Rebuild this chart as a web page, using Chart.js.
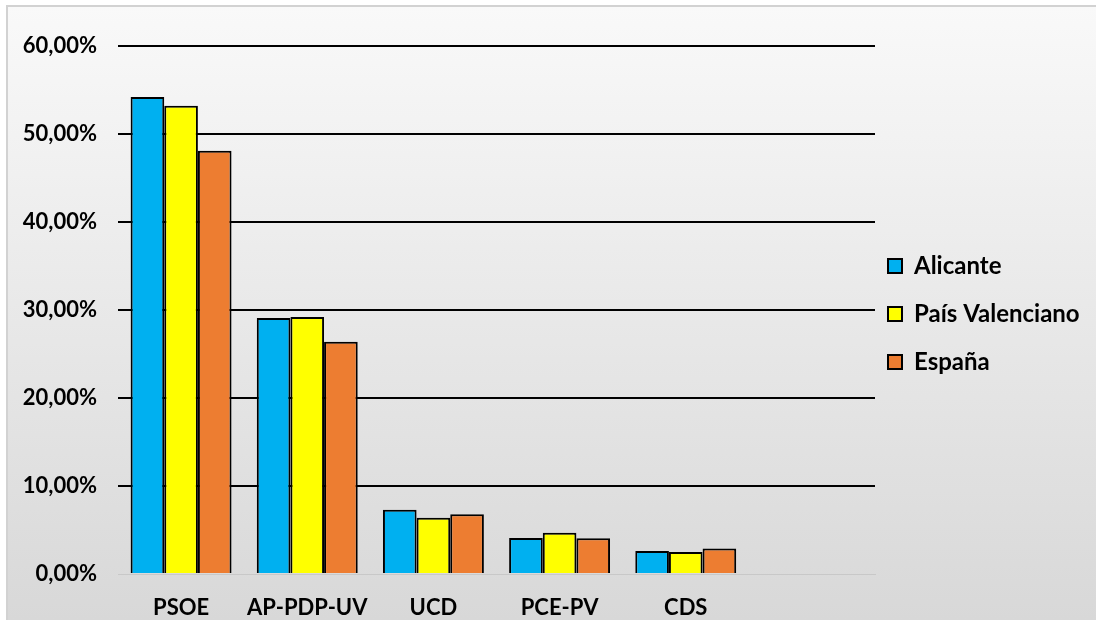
<!DOCTYPE html>
<html>
<head>
<meta charset="utf-8">
<script src="https://cdn.jsdelivr.net/npm/chart.js@4/dist/chart.umd.min.js"></script>
<style>
  html, body { margin: 0; padding: 0; background: #ffffff; }
  #wrap { width: 1096px; height: 620px; position: relative; }
</style>
</head>
<body>
<div id="wrap"><canvas id="c" width="1096" height="620"></canvas></div>
<script>
// ---- data ----
const categories = ['PSOE', 'AP-PDP-UV', 'UCD', 'PCE-PV', 'CDS', ''];
const alicante = [54.2, 29.1, 7.3, 4.1, 2.6, null];
const paisValenciano = [53.2, 29.2, 6.4, 4.7, 2.5, null];
const espana = [48.1, 26.4, 6.8, 4.05, 2.9, null];
const seriesNames = ['Alicante', 'País Valenciano', 'España'];
const yTicks = [0, 10, 20, 30, 40, 50, 60];

const FONT = 'Lato';

const bgPlugin = {
  id: 'bg',
  beforeDraw(chart) {
    const ctx = chart.ctx;
    ctx.save();
    ctx.fillStyle = '#ffffff';
    ctx.fillRect(0, 0, chart.width, chart.height);
    const g = ctx.createLinearGradient(0, 6, 0, 620);
    g.addColorStop(0, '#f9f9f9');
    g.addColorStop(1, '#d8d8d8');
    ctx.fillStyle = g;
    ctx.fillRect(7, 6, chart.width - 7, chart.height - 6);
    ctx.strokeStyle = '#d2d2d2';
    ctx.lineWidth = 2;
    ctx.strokeRect(7, 6, chart.width + 10, chart.height + 10);
    ctx.restore();
  }
};

const legendFix = {
  id: 'legendFix',
  beforeLayout(chart) {
    const l = chart.legend;
    if (l && !l._patched) {
      const f = l.fit;
      l.fit = function () { f.call(this); this.width = 221; };
      l._patched = true;
    }
  },
  afterLayout(chart) {
    const l = chart.legend;
    const pad = l.options.labels.padding;
    l.left = chart.chartArea.right + 13 - pad;
    l.right = l.left + 221;
    l.top = 229;
    l.bottom = l.top + 170;
  }
};

new Chart(document.getElementById('c'), {
  type: 'bar',
  data: {
    labels: categories,
    datasets: [
      { label: seriesNames[0], data: alicante, backgroundColor: '#00B0F0' },
      { label: seriesNames[1], data: paisValenciano, backgroundColor: '#FFFF00' },
      { label: seriesNames[2], data: espana, backgroundColor: '#ED7D31' }
    ].map(d => Object.assign(d, {
      borderColor: '#000000',
      borderWidth: 2,
      categoryPercentage: 0.8,
      barPercentage: 1.0
    }))
  },
  options: {
    responsive: false,
    animation: false,
    devicePixelRatio: 1,
    layout: { padding: { top: 46, left: 0, right: 0, bottom: 0 } },
    plugins: {
      tooltip: { enabled: false },
      legend: {
        position: 'right',
        align: 'center',
        labels: {
          boxWidth: 14,
          boxHeight: 14,
          padding: 24,
          color: '#000000',
          font: { family: FONT, size: 24, weight: 'bold' }
        }
      }
    },
    scales: {
      x: {
        grid: { display: false, drawTicks: false },
        border: { display: true, color: '#c8c8c8', width: 1 },
        ticks: {
          color: '#000000',
          padding: 21,
          maxRotation: 0,
          minRotation: 0,
          autoSkip: false,
          font: { family: FONT, size: 22, weight: 'bold' }
        },
        afterFit(s) { s.height = 46; }
      },
      y: {
        min: 0,
        max: 60,
        afterBuildTicks(s) { s.ticks = yTicks.map(v => ({ value: v })); },
        grid: {
          drawTicks: false,
          lineWidth: 2,
          color: ctx => (ctx.tick && ctx.tick.value === 0) ? 'rgba(0,0,0,0)' : '#000000'
        },
        border: { display: false },
        ticks: {
          color: '#000000',
          padding: 21,
          font: { family: FONT, size: 22, weight: 'bold' },
          callback: v => v.toFixed(2).replace('.', ',') + '%'
        },
        afterFit(s) { s.width = 118; }
      }
    }
  },
  plugins: [bgPlugin, legendFix]
});
</script>
</body>
</html>
